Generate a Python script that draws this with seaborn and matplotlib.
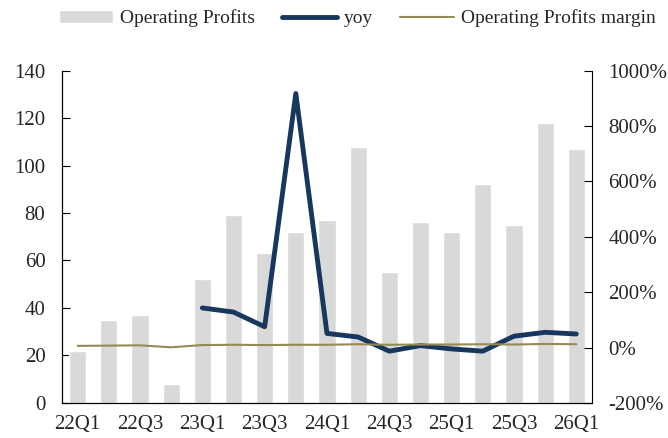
import numpy as np
import pandas as pd
import matplotlib
matplotlib.use('Agg')
import matplotlib.pyplot as plt
import seaborn as sns

# data
quarters = ['22Q1', '22Q2', '22Q3', '22Q4', '23Q1', '23Q2', '23Q3', '23Q4', '24Q1',
            '24Q2', '24Q3', '24Q4', '25Q1', '25Q2', '25Q3', '25Q4', '26Q1']
op_profits = [22, 35, 37, 8, 52, 79, 63, 72, 77, 108, 55, 76, 72, 92, 75, 118, 107]
yoy = [np.nan, np.nan, np.nan, np.nan, 143, 128, 75, 917, 51, 38, -13, 7, -5, -13, 41, 55, 49]
op_margin = [6, 7, 8, 1, 9, 10, 9, 10, 10, 12, 10, 11, 11, 12, 11, 13, 12]

color_bar = '#d9d9d9'
color_yoy = '#17375e'
color_margin = '#948a54'

df = pd.DataFrame({'quarter': quarters, 'profit': op_profits, 'yoy': yoy, 'margin': op_margin})
df['idx'] = np.arange(len(df))

sns.set_style('white')
plt.rcParams['font.family'] = ['Liberation Serif', 'DejaVu Serif']

fig = plt.figure(figsize=(6.68, 4.38), dpi=100)
ax = fig.add_axes([0.093, 0.080, 0.793, 0.759])

sns.barplot(data=df, x='quarter', y='profit', color=color_bar, width=0.55,
            saturation=1, ax=ax, label='Operating Profits')
ax.set_ylim(0, 140)
ax.set_yticks(range(0, 141, 20))
ax.set_xlim(-0.5, len(quarters) - 0.5)

ax2 = ax.twinx()
sns.lineplot(data=df, x='idx', y='yoy', color=color_yoy, lw=3.5, ax=ax2, label='yoy')
sns.lineplot(data=df, x='idx', y='margin', color=color_margin, lw=1.5, ax=ax2,
             label='Operating Profits margin')
ax2.set_ylim(-200, 1000)
ax2.set_yticks(range(-200, 1001, 200))
ax2.set_yticklabels([f'{v}%' for v in range(-200, 1001, 200)])
ax2.set_xlim(-0.5, len(quarters) - 0.5)

# x ticks: labels every other quarter, tick marks at category boundaries
ax.set_xticks(range(0, len(quarters), 2))
ax.set_xticklabels(quarters[::2])
ax.set_xticks(np.arange(0.5, len(quarters) - 1, 1), minor=True)
ax.tick_params(axis='x', which='major', length=0, labelsize=15, pad=9)
ax.tick_params(axis='x', which='minor', direction='in', length=5, width=0.8, color='black')
ax.tick_params(axis='y', direction='in', length=6, width=0.8, labelsize=15, left=True,
               color='black', pad=12)
ax2.tick_params(axis='y', direction='in', length=6, width=0.8, labelsize=15, right=True,
                color='black', pad=12)

ax.set_xlabel('')
ax.set_ylabel('')
ax2.set_xlabel('')
ax2.set_ylabel('')

for a in (ax, ax2):
    a.spines['top'].set_visible(False)
    for s in ('left', 'bottom', 'right'):
        a.spines[s].set_color('black')
        a.spines[s].set_linewidth(0.8)
ax.spines['right'].set_visible(False)

h1, l1 = ax.get_legend_handles_labels()
h2, l2 = ax2.get_legend_handles_labels()
if ax.get_legend():
    ax.get_legend().remove()
if ax2.get_legend():
    ax2.get_legend().remove()
fig.legend(h1 + h2, l1 + l2, loc='center', bbox_to_anchor=(0.535, 0.958), ncol=3,
           frameon=False, fontsize=14, handlelength=2.8, columnspacing=1.4,
           handletextpad=0.35)

fig.savefig('out.png', dpi=100)
